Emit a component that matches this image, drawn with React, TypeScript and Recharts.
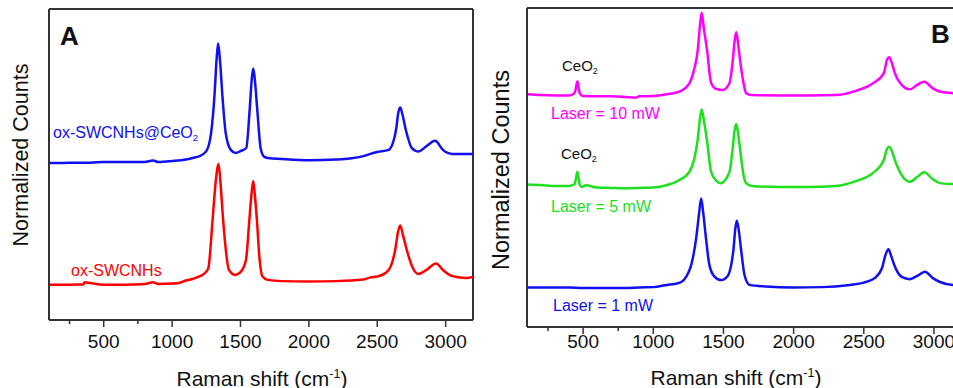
import React from "react"
import { Line, LineChart, ReferenceLine, XAxis, YAxis } from "recharts"

// Panel A – Raman spectra of the two samples (normalized, stacked)
const blueAShift = [100, 200, 300, 400, 500, 600, 700, 800, 860, 900, 1000, 1100, 1150, 1200, 1250, 1285, 1310, 1325, 1336, 1350, 1369, 1392, 1429, 1465, 1500, 1542, 1567, 1582, 1593, 1605, 1623, 1647, 1671, 1700, 1800, 2000, 2200, 2300, 2400, 2450, 2500, 2583, 2637, 2655, 2668, 2685, 2709, 2753, 2801, 2860, 2923, 2980, 3050, 3200]
const blueACounts = [0.505, 0.505, 0.506, 0.506, 0.508, 0.508, 0.508, 0.508, 0.513, 0.508, 0.511, 0.516, 0.521, 0.527, 0.543, 0.601, 0.723, 0.836, 0.889, 0.836, 0.714, 0.601, 0.547, 0.537, 0.543, 0.553, 0.675, 0.772, 0.809, 0.772, 0.675, 0.553, 0.526, 0.521, 0.518, 0.514, 0.516, 0.519, 0.527, 0.534, 0.54, 0.547, 0.611, 0.669, 0.683, 0.659, 0.611, 0.553, 0.542, 0.559, 0.576, 0.547, 0.534, 0.534]

const redAShift = [100, 200, 300, 350, 360, 400, 500, 600, 700, 800, 860, 900, 1000, 1050, 1100, 1150, 1200, 1240, 1265, 1296, 1320, 1340, 1355, 1373, 1416, 1460, 1500, 1540, 1565, 1580, 1593, 1605, 1620, 1640, 1660, 1700, 1800, 2000, 2200, 2400, 2450, 2500, 2560, 2600, 2631, 2652, 2668, 2688, 2716, 2760, 2800, 2860, 2930, 2980, 3050, 3150, 3200]
const redACounts = [0.113, 0.113, 0.114, 0.114, 0.121, 0.119, 0.113, 0.113, 0.114, 0.116, 0.121, 0.116, 0.117, 0.119, 0.127, 0.132, 0.14, 0.151, 0.167, 0.322, 0.45, 0.502, 0.434, 0.322, 0.161, 0.145, 0.154, 0.193, 0.322, 0.402, 0.447, 0.402, 0.322, 0.193, 0.141, 0.129, 0.125, 0.124, 0.125, 0.13, 0.137, 0.14, 0.151, 0.174, 0.225, 0.283, 0.304, 0.273, 0.225, 0.167, 0.148, 0.161, 0.182, 0.161, 0.141, 0.135, 0.138]

// Panel B – ox-SWCNHs@CeO2 at three laser powers
const mag10Shift = [100, 200, 300, 400, 440, 459, 475, 500, 600, 700, 800, 876, 900, 1000, 1100, 1186, 1257, 1290, 1316, 1333, 1345, 1360, 1384, 1412, 1450, 1495, 1543, 1566, 1580, 1591, 1603, 1619, 1643, 1662, 1700, 1900, 2100, 2300, 2448, 2566, 2643, 2665, 2681, 2700, 2721, 2770, 2829, 2880, 2931, 2990, 3043, 3136, 3200]
const mag10Counts = [0.73, 0.727, 0.726, 0.726, 0.734, 0.77, 0.734, 0.724, 0.723, 0.723, 0.721, 0.719, 0.723, 0.724, 0.73, 0.738, 0.764, 0.806, 0.865, 0.947, 0.985, 0.937, 0.865, 0.765, 0.746, 0.743, 0.765, 0.834, 0.897, 0.924, 0.893, 0.834, 0.765, 0.733, 0.727, 0.726, 0.726, 0.727, 0.741, 0.764, 0.796, 0.837, 0.846, 0.828, 0.796, 0.759, 0.745, 0.759, 0.769, 0.749, 0.738, 0.733, 0.732]

const green5Shift = [100, 200, 300, 400, 440, 459, 475, 490, 520, 600, 700, 800, 900, 1000, 1100, 1186, 1257, 1290, 1316, 1333, 1345, 1360, 1384, 1412, 1450, 1480, 1543, 1566, 1580, 1591, 1603, 1619, 1643, 1662, 1700, 1900, 2100, 2300, 2448, 2566, 2643, 2665, 2681, 2700, 2721, 2770, 2829, 2880, 2931, 2990, 3043, 3136, 3200]
const green5Counts = [0.447, 0.445, 0.442, 0.442, 0.448, 0.487, 0.448, 0.439, 0.444, 0.437, 0.436, 0.435, 0.436, 0.437, 0.445, 0.461, 0.486, 0.524, 0.586, 0.655, 0.682, 0.649, 0.58, 0.486, 0.458, 0.451, 0.486, 0.561, 0.618, 0.636, 0.611, 0.555, 0.476, 0.451, 0.442, 0.439, 0.439, 0.442, 0.458, 0.483, 0.524, 0.558, 0.565, 0.552, 0.524, 0.476, 0.455, 0.47, 0.485, 0.464, 0.451, 0.448, 0.448]

const blue1Shift = [100, 200, 300, 400, 500, 600, 700, 800, 900, 1000, 1100, 1150, 1200, 1234, 1270, 1305, 1325, 1341, 1355, 1376, 1400, 1436, 1484, 1530, 1555, 1571, 1585, 1595, 1607, 1626, 1650, 1686, 1800, 2000, 2200, 2400, 2500, 2580, 2630, 2655, 2676, 2695, 2720, 2770, 2829, 2880, 2936, 2990, 3043, 3136, 3200]
const blue1Counts = [0.124, 0.124, 0.124, 0.124, 0.122, 0.122, 0.122, 0.122, 0.124, 0.125, 0.132, 0.135, 0.141, 0.157, 0.194, 0.276, 0.351, 0.403, 0.361, 0.276, 0.194, 0.158, 0.147, 0.16, 0.194, 0.241, 0.31, 0.333, 0.31, 0.241, 0.163, 0.132, 0.127, 0.124, 0.125, 0.132, 0.139, 0.154, 0.185, 0.226, 0.244, 0.223, 0.191, 0.157, 0.15, 0.16, 0.173, 0.154, 0.141, 0.132, 0.132]

const shiftTicks = [250, 500, 750, 1000, 1250, 1500, 1750, 2000, 2250, 2500, 2750, 3000]

const zip = (xs: number[], ys: number[]) => xs.map((x, i) => ({ x, y: ys[i] }))

const FONT = "Arial, 'Liberation Sans', sans-serif"
const FRAME = "#333"

// outward ticks: long at every 500, short in between
function ShiftTick(props: any) {
	const { x, y, payload, off } = props
	const major = payload.value % 500 === 0
	return (
		<g>
			<line x1={x} x2={x} y1={y} y2={y + (major ? 7 : 4)} stroke={FRAME} strokeWidth={1.5} />
			{major && (
				<text x={x} y={y + off} textAnchor="middle" dominantBaseline="central" fontSize={19} fontFamily={FONT} fill="#111">
					{payload.value}
				</text>
			)}
		</g>
	)
}

function Label({ left, top, color = "#111", size = 16, bold = false, center = false, children }: any) {
	return (
		<div
			style={{
				position: "absolute",
				left,
				top,
				transform: center ? "translate(-50%, -50%)" : "translateY(-50%)",
				color,
				fontSize: size,
				fontWeight: bold ? "bold" : "normal",
				fontFamily: FONT,
				lineHeight: 1,
				whiteSpace: "nowrap",
			}}
		>
			{children}
		</div>
	)
}

const sub = { fontSize: "0.6em", verticalAlign: "-0.35em" }
const sup = { fontSize: "0.6em", verticalAlign: "0.6em" }

function Panel({ width, height, margin, yWidth, xHeight, off, series }: any) {
	return (
		<LineChart width={width} height={height} margin={margin}>
			<XAxis
				dataKey="x"
				type="number"
				domain={[100, 3200]}
				ticks={shiftTicks}
				allowDataOverflow
				height={xHeight}
				tickSize={0}
				tickMargin={0}
				tickLine={false}
				axisLine={{ stroke: FRAME, strokeWidth: 2 }}
				tick={(p: any) => <ShiftTick {...p} off={off} />}
			/>
			<YAxis type="number" domain={[0, 1]} width={yWidth} tick={false} tickLine={false} axisLine={{ stroke: FRAME, strokeWidth: 2 }} />
			<ReferenceLine y={1} stroke={FRAME} strokeWidth={2} />
			<ReferenceLine x={3200} stroke={FRAME} strokeWidth={2} />
			{series.map((s: any) => (
				<Line
					key={s.name}
					data={s.data}
					dataKey="y"
					type="monotone"
					stroke={s.color}
					strokeWidth={2.5}
					dot={false}
					isAnimationActive={false}
				/>
			))}
		</LineChart>
	)
}

export default function App() {
	const seriesA = [
		{ name: "ox-SWCNHs@CeO2", color: "#1010f0", data: zip(blueAShift, blueACounts) },
		{ name: "ox-SWCNHs", color: "#ff0000", data: zip(redAShift, redACounts) },
	]
	const seriesB = [
		{ name: "Laser = 10 mW", color: "#ff00ff", data: zip(mag10Shift, mag10Counts) },
		{ name: "Laser = 5 mW", color: "#1ee01e", data: zip(green5Shift, green5Counts) },
		{ name: "Laser = 1 mW", color: "#1010f0", data: zip(blue1Shift, blue1Counts) },
	]

	return (
		<div style={{ position: "absolute", left: 0, top: 0, width: 953, height: 388, overflow: "hidden", background: "#fff" }}>
			<div style={{ position: "absolute", left: 0, top: 0 }}>
				<Panel width={480} height={388} margin={{ top: 9, right: 7, bottom: 0, left: 0 }} yWidth={49} xHeight={68} off={21} series={seriesA} />
			</div>
			<div style={{ position: "absolute", left: 480, top: 0 }}>
				<Panel width={490} height={388} margin={{ top: 8, right: 8, bottom: 0, left: 0 }} yWidth={47} xHeight={61} off={14} series={seriesB} />
			</div>

			{/* panel A texts */}
			<Label left={60} top={36} size={26} bold>A</Label>
			<Label left={53} top={134} color="#1010f0">
				ox-SWCNHs@CeO<span style={sub}>2</span>
			</Label>
			<Label left={71} top={271} color="#ff0000">ox-SWCNHs</Label>
			<div style={{ position: "absolute", left: 22, top: 155, transform: "translate(-50%, -50%) rotate(-90deg)", fontFamily: FONT, fontSize: 21.5, lineHeight: 1, whiteSpace: "nowrap", color: "#111" }}>
				Normalized Counts
			</div>
			<Label left={262} top={378} size={21} center>
				Raman shift (cm<span style={sup}>-1</span>)
			</Label>

			{/* panel B texts */}
			<Label left={931} top={34} size={26} bold>B</Label>
			<Label left={562} top={67} size={15}>
				CeO<span style={sub}>2</span>
			</Label>
			<Label left={561} top={155} size={15}>
				CeO<span style={sub}>2</span>
			</Label>
			<Label left={551} top={114} color="#ff00ff">Laser = 10 mW</Label>
			<Label left={551} top={207} color="#1ee01e">Laser = 5 mW</Label>
			<Label left={553} top={306} color="#1010f0">Laser = 1 mW</Label>
			<div style={{ position: "absolute", left: 502, top: 170, transform: "translate(-50%, -50%) rotate(-90deg)", fontFamily: FONT, fontSize: 23.5, lineHeight: 1, whiteSpace: "nowrap", color: "#111" }}>
				Normalized Counts
			</div>
			<Label left={736} top={377} size={21} center>
				Raman shift (cm<span style={sup}>-1</span>)
			</Label>
		</div>
	)
}
